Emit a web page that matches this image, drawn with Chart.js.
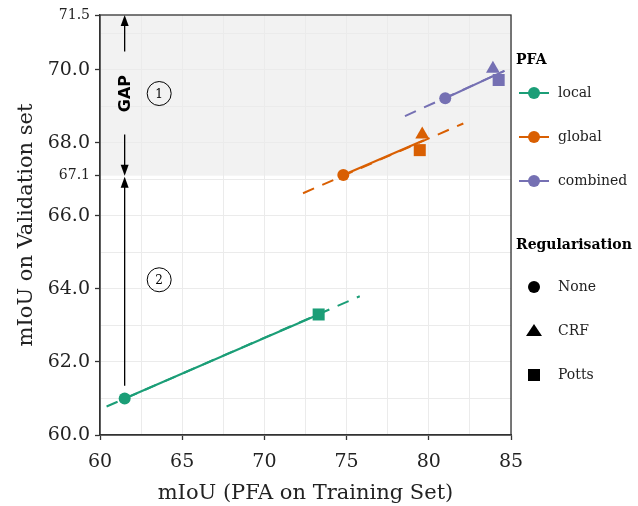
<!DOCTYPE html>
<html>
<head>
<meta charset="utf-8">
<script src="https://cdn.jsdelivr.net/npm/chart.js@4"></script>
<style>
  body { margin: 0; background: #fff; }
  #wrap { width: 638px; height: 506px; }
</style>
</head>
<body>
<div id="wrap"><canvas id="myChart"></canvas></div>
<script>
// PFA groups and regularisation types
const pfaGroups = ['local', 'global', 'combined']
const regTypes = ['None', 'CRF', 'Potts']
const pfaColors = ['#1b9e77', '#d95f02', '#7570b3']

// points: [None, CRF, Potts]
const trainLocal = [61.5, null, 73.3]
const valLocal = [61.0, null, 63.3]
const trainGlobal = [74.8, 79.6, 79.45]
const valGlobal = [67.12, 68.23, 67.8]
const trainCombined = [81.0, 83.9, 84.25]
const valCombined = [69.22, 70.03, 69.72]

// dashed fit lines
const fitLocalX = [60.4, 75.8]
const fitLocalY = [60.78, 63.8]
const fitGlobalX = [72.35, 82.1]
const fitGlobalY = [66.62, 68.53]
const fitCombinedX = [78.55, 84.6]
const fitCombinedY = [68.73, 69.97]

// solid segments
const solidLocalX = [61.5, 73.3]
const solidLocalY = [61.0, 63.3]
const solidGlobalX = [74.8, 79.7]
const solidGlobalY = [67.12, 68.07]
const solidCombinedX = [81.0, 84.6]
const solidCombinedY = [69.22, 69.97]

// axis ticks
const xTickLabels = [60, 65, 70, 75, 80, 85]
const yTickLabels = [60, 62, 64, 66, 67.1, 68, 70, 71.5]
const yGridValues = [60, 61, 62, 63, 64, 65, 66, 67, 68, 69, 70, 71]

// annotation values
const gapTop = 71.5
const gapBottom = 67.1
const arrowX = 61.5
const arrowLowEnd = 61.35
const markX = 63.6
const mark1Y = 69.35
const mark2Y = 64.25

const serif = "'DejaVu Serif', serif"

const trainSets = [trainLocal, trainGlobal, trainCombined]
const valSets = [valLocal, valGlobal, valCombined]
const fitX = [fitLocalX, fitGlobalX, fitCombinedX]
const fitY = [fitLocalY, fitGlobalY, fitCombinedY]
const solidX = [solidLocalX, solidGlobalX, solidCombinedX]
const solidY = [solidLocalY, solidGlobalY, solidCombinedY]

const styles = ['circle', 'triangle', 'rect']
const radii = [6, 8, 8.5]

const datasets = []
pfaGroups.forEach((g, i) => {
    const pts = [], ps = [], pr = []
    trainSets[i].forEach((x, j) => {
        if (x === null) return
        pts.push({ x: x, y: valSets[i][j] })
        ps.push(styles[j])
        pr.push(radii[j])
    })
    datasets.push({
        label: g,
        data: pts,
        pointStyle: ps,
        pointRadius: pr,
        backgroundColor: pfaColors[i],
        borderColor: pfaColors[i],
        pointBorderWidth: 0,
        order: 0
    })
    datasets.push({
        data: solidX[i].map((x, k) => ({ x: x, y: solidY[i][k] })),
        showLine: true,
        borderColor: pfaColors[i],
        borderWidth: 2,
        pointRadius: 0,
        order: 1
    })
    datasets.push({
        data: fitX[i].map((x, k) => ({ x: x, y: fitY[i][k] })),
        showLine: true,
        borderColor: pfaColors[i],
        borderWidth: 2,
        borderDash: [12, 9],
        pointRadius: 0,
        order: 2
    })
})

function arrowHead(ctx, x, y, dir) {
    ctx.beginPath()
    ctx.moveTo(x, y)
    ctx.lineTo(x - 4, y - dir * 11)
    ctx.lineTo(x + 4, y - dir * 11)
    ctx.closePath()
    ctx.fill()
}

const extras = {
    id: 'extras',
    beforeDraw(chart) {
        const { ctx, chartArea, scales } = chart
        const yb = scales.y.getPixelForValue(gapBottom)
        ctx.save()
        ctx.fillStyle = '#f2f2f2'
        ctx.fillRect(chartArea.left, chartArea.top, chartArea.right - chartArea.left, yb - chartArea.top)
        ctx.restore()
    },
    afterDatasetsDraw(chart) {
        const { ctx, scales } = chart
        const x = scales.x.getPixelForValue(arrowX)
        const yTop = scales.y.getPixelForValue(gapTop)
        const yGap = scales.y.getPixelForValue(gapBottom)
        const yMid = scales.y.getPixelForValue(mark1Y)
        const yLow = scales.y.getPixelForValue(arrowLowEnd)
        ctx.save()
        ctx.strokeStyle = '#000'
        ctx.fillStyle = '#000'
        ctx.lineWidth = 1.3
        ctx.beginPath()
        ctx.moveTo(x, yMid - 42); ctx.lineTo(x, yTop + 6)
        ctx.moveTo(x, yMid + 41); ctx.lineTo(x, yGap - 6)
        ctx.moveTo(x, yGap + 6); ctx.lineTo(x, yLow)
        ctx.stroke()
        arrowHead(ctx, x, yTop, -1)
        arrowHead(ctx, x, yGap, 1)
        arrowHead(ctx, x, yGap + 1, -1)

        ctx.translate(x, yMid)
        ctx.rotate(-Math.PI / 2)
        ctx.font = "bold 16px 'DejaVu Sans', sans-serif"
        ctx.textAlign = 'center'
        ctx.textBaseline = 'middle'
        ctx.fillText('GAP', 0, 1)
        ctx.restore()

        ctx.save()
        const mx = scales.x.getPixelForValue(markX)
        ;[[mark1Y, '1'], [mark2Y, '2']].forEach(m => {
            const my = scales.y.getPixelForValue(m[0])
            ctx.beginPath()
            ctx.arc(mx, my, 12, 0, Math.PI * 2)
            ctx.lineWidth = 1
            ctx.strokeStyle = '#000'
            ctx.stroke()
            ctx.fillStyle = '#000'
            ctx.font = '12px ' + serif
            ctx.textAlign = 'center'
            ctx.textBaseline = 'middle'
            ctx.fillText(m[1], mx, my + 1)
        })
        ctx.restore()
    },
    afterDraw(chart) {
        const { ctx, chartArea } = chart
        ctx.save()
        ctx.strokeStyle = '#333'
        ctx.lineWidth = 1.3
        ctx.strokeRect(chartArea.left, chartArea.top, chartArea.right - chartArea.left, chartArea.bottom - chartArea.top)

        // legend
        const lx = chartArea.right + 5
        ctx.textBaseline = 'middle'
        ctx.textAlign = 'left'
        ctx.fillStyle = '#000'
        ctx.font = 'bold 14px ' + serif
        ctx.fillText('PFA', lx, 60)
        pfaGroups.forEach((g, i) => {
            const y = 93 + i * 44
            ctx.strokeStyle = pfaColors[i]
            ctx.lineWidth = 2
            ctx.beginPath(); ctx.moveTo(lx + 3, y); ctx.lineTo(lx + 33, y); ctx.stroke()
            ctx.fillStyle = pfaColors[i]
            ctx.beginPath(); ctx.arc(lx + 18, y, 6, 0, Math.PI * 2); ctx.fill()
            ctx.fillStyle = '#222'
            ctx.font = '14px ' + serif
            ctx.fillText(g, lx + 42, y)
        })
        ctx.fillStyle = '#000'
        ctx.font = 'bold 14px ' + serif
        ctx.fillText('Regularisation', lx, 245)
        regTypes.forEach((r, i) => {
            const y = 287 + i * 44
            const cx = lx + 18
            ctx.fillStyle = '#000'
            ctx.beginPath()
            if (i === 0) ctx.arc(cx, y, 6, 0, Math.PI * 2)
            else if (i === 1) { ctx.moveTo(cx, y - 7); ctx.lineTo(cx + 8, y + 5); ctx.lineTo(cx - 8, y + 5); ctx.closePath() }
            else ctx.rect(cx - 6, y - 6, 12, 12)
            ctx.fill()
            ctx.fillStyle = '#222'
            ctx.font = '14px ' + serif
            ctx.fillText(r, lx + 42, y)
        })
        ctx.restore()
    }
}

const ctx = document.getElementById('myChart')

const chart = new Chart(ctx, {
    type: 'scatter',
    data: { datasets: datasets },
    plugins: [extras],
    options: {
        responsive: true,
        maintainAspectRatio: false,
        animation: false,
        layout: { padding: { top: 15, right: 127, left: 0, bottom: 0 } },
        plugins: {
            legend: { display: false },
            tooltip: { enabled: false }
        },
        scales: {
            x: {
                type: 'linear',
                min: 60,
                max: 85,
                afterFit: s => { s.height = 71 },
                ticks: {
                    stepSize: 2.5,
                    autoSkip: false,
                    maxRotation: 0,
                    padding: 11,
                    color: '#222',
                    font: { family: serif, size: 19 },
                    callback: v => xTickLabels.includes(v) ? String(v) : ''
                },
                grid: {
                    color: '#ebebeb',
                    lineWidth: 1,
                    tickLength: 5,
                    tickWidth: 1.3,
                    tickColor: c => xTickLabels.includes(c.tick.value) ? '#333' : 'rgba(0,0,0,0)'
                },
                border: { color: '#333', width: 1.3 },
                title: {
                    display: true,
                    text: 'mIoU (PFA on Training Set)',
                    color: '#222',
                    font: { family: serif, size: 21 },
                    padding: { top: 0, bottom: 0 }
                }
            },
            y: {
                type: 'linear',
                min: 60,
                max: 71.5,
                afterFit: s => { s.width = 100 },
                afterBuildTicks: s => {
                    const vals = yGridValues.concat([67.1, 71.5]).sort((a, b) => a - b)
                    s.ticks = vals.map(v => ({ value: v }))
                },
                ticks: {
                    autoSkip: false,
                    padding: 5,
                    color: '#222',
                    font: c => ({ family: serif, size: (c.tick && (c.tick.value === 67.1 || c.tick.value === 71.5)) ? 14 : 19 }),
                    callback: v => yTickLabels.includes(v) ? v.toFixed(1) : ''
                },
                grid: {
                    color: c => (c.tick && (c.tick.value === 67.1 || c.tick.value === 71.5)) ? 'rgba(0,0,0,0)' : '#ebebeb',
                    lineWidth: 1,
                    tickLength: 5,
                    tickWidth: 1.3,
                    tickColor: c => (c.tick && yTickLabels.includes(c.tick.value)) ? '#333' : 'rgba(0,0,0,0)'
                },
                border: { color: '#333', width: 1.3 },
                title: {
                    display: true,
                    text: 'mIoU on Validation set',
                    color: '#222',
                    font: { family: serif, size: 21 },
                    padding: { top: 14, bottom: 0 }
                }
            }
        }
    }
})
</script>
</body>
</html>
